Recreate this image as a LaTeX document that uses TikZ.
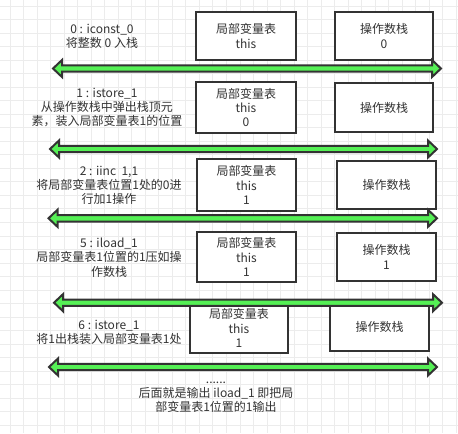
\documentclass[tikz,border=0pt]{standalone}
\usepackage{fontspec}
\setmainfont{Noto Sans CJK SC}
\definecolor{txt}{HTML}{333333}
\definecolor{edge}{HTML}{333333}
\definecolor{grn}{HTML}{55F055}
\definecolor{gridc}{HTML}{ECECEC}
\newcommand\garrow[3]{%
  \draw[garrowstyle] (#1,#3) -- ++(9,-8.5) -- ++(0,5.3) -- (#2-9,#3-3.2) -- ++(0,-5.3) -- (#2,#3)
    -- ++(-9,8.5) -- ++(0,-5.3) -- (#1+9,#3+3.2) -- ++(0,5.3) -- cycle;}
\begin{document}
\begin{tikzpicture}[x=0.75pt,y=-0.75pt,
  box/.style={draw=edge, line width=1.5pt, fill=white, text=txt, align=center, inner sep=0pt,
    font=\fontsize{9}{10.7}\selectfont},
  lbl/.style={text=txt, align=center, inner sep=0pt, font=\fontsize{9}{10.7}\selectfont},
  garrowstyle/.style={draw=edge, fill=grn, line width=1.5pt, line join=miter}]
\useasboundingbox[fill=white] (0,0) rectangle (458,433);
% grid
\foreach \k in {0,...,33} {\draw[gridc, line width=0.75pt] ({10+\k*13.53},0) -- ({10+\k*13.53},433);}
\foreach \k in {0,...,31} {\draw[gridc, line width=0.75pt] (0,{6+\k*13.53}) -- (458,{6+\k*13.53});}
% boxes
\node[box, minimum width=75pt, minimum height=36pt] (v1) at (246,36) {局部变量表\\this};
\node[box, minimum width=73.5pt, minimum height=36pt] (s1) at (384,36) {操作数栈\\0};
\node[box, minimum width=75pt, minimum height=38.25pt] (v2) at (246,107.5) {局部变量表\\this\\0};
\node[box, minimum width=73.5pt, minimum height=36.75pt] (s2) at (384,107.5) {操作数栈};
\node[box, minimum width=74.25pt, minimum height=39pt] (v3) at (246.5,185) {局部变量表\\this\\1};
\node[box, minimum width=74.25pt, minimum height=36pt] (s3) at (386.5,185) {操作数栈};
\node[box, minimum width=74.25pt, minimum height=37.5pt] (v4) at (246.5,257) {局部变量表\\this\\1};
\node[box, minimum width=74.25pt, minimum height=36pt] (s4) at (386.5,257) {操作数栈\\1};
\node[box, minimum width=73.5pt, minimum height=37.5pt] (v5) at (239,328) {局部变量表\\this\\1};
\node[box, minimum width=74.25pt, minimum height=35.25pt] (s5) at (379.5,327) {操作数栈};
% labels
\node[lbl] (t1) at (102,36) {0 : iconst\_0\\将整数 0 入栈};
\node[lbl] (t2) at (107,107.5) {1 : istore\_1\\从操作数栈中弹出栈顶元\\素，装入局部变量表1的位置};
\node[lbl] (t3) at (109,185.5) {2 : iinc\ \ 1,1\\将局部变量表位置1处的0进\\行加1操作};
\node[lbl] (t4) at (109,257.5) {5 : iload\_1\\局部变量表1位置的1压如操\\作数栈};
\node[lbl] (t5) at (109,332) {6 : istore\_1\\将1出栈装入局部变量表1处};
\node[lbl] (t6) at (216,397.3) {......\\后面就是输出 iload\_1 即把局\\部变量表1位置的1输出};
% arrows
\garrow{53}{441}{68.5}
\garrow{50}{437}{149}
\garrow{48.5}{437}{218.3}
\garrow{54}{442}{302.7}
\garrow{49}{437}{367}
\end{tikzpicture}
\end{document}
